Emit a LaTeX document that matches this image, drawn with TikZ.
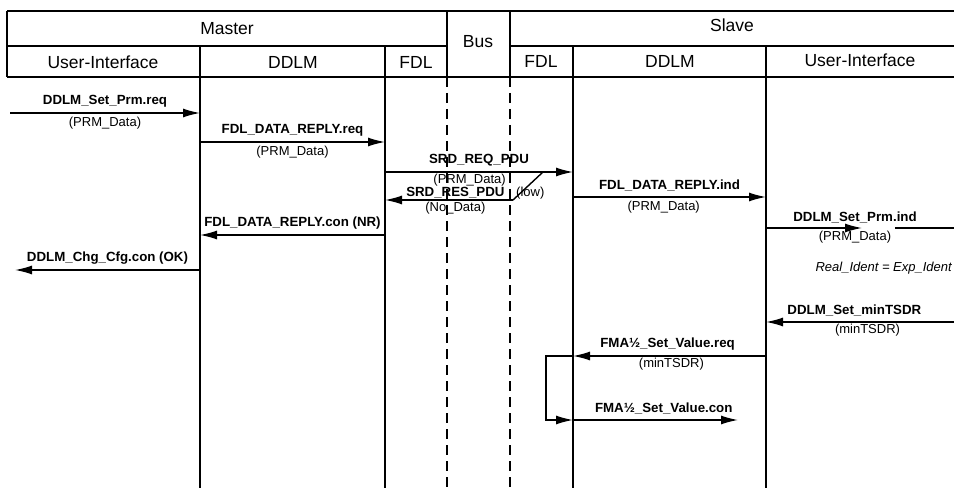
\documentclass[tikz,border=0pt]{standalone}
\usepackage{fontspec}
\setmainfont{Liberation Sans}
\usetikzlibrary{arrows.meta}

\begin{document}
\begin{tikzpicture}[
    x=1pt, y=-1pt,
    frame/.style={line width=1.7pt},
    lifeline/.style={line width=1.7pt},
    busline/.style={line width=1.6pt, dash pattern=on 10pt off 6pt},
    arrow/.style={line width=1.4pt, -{Latex[length=17pt,width=9pt]}},
    plain/.style={line width=1.4pt},
    head/.style={font=\fontsize{17.5}{20}\selectfont},
    msg/.style={font=\fontsize{13.3}{15}\selectfont\bfseries, inner sep=5pt},
    prm/.style={font=\fontsize{13}{15}\selectfont, inner sep=3pt}
]
    \useasboundingbox (0,0) rectangle (954,492);
    \clip (0,0) rectangle (954,492);

    % Columns
    \coordinate (left) at (7,77);
    \coordinate (ddlmM) at (200,77);
    \coordinate (fdlM) at (385,77);
    \coordinate (busM) at (447,77);
    \coordinate (busS) at (510,77);
    \coordinate (fdlS) at (573,77);
    \coordinate (ddlmS) at (766,77);
    \coordinate (right) at (960,77);
    \coordinate (top) at (0,11);
    \coordinate (mid) at (0,46);
    \coordinate (bot) at (0,488);

    % Header
    \draw[frame] (left |- top) -- (right |- top);
    \draw[frame] (left |- mid) -- (busM |- mid);
    \draw[frame] (busS |- mid) -- (right |- mid);
    \draw[frame] (left) -- (right);
    \foreach \c in {left,busM,busS} \draw[frame] (\c |- top) -- (\c);
    \foreach \c in {ddlmM,fdlM,fdlS,ddlmS} \draw[frame] (\c |- mid) -- (\c);

    \node (master) [head] at (227,29) {Master};
    \node (slave) [head] at (732,25) {Slave};
    \node (bus) [head] at (478,42) {Bus};
    \node (uiM) [head] at (103,62) {User-Interface};
    \node (ddlmMh) [head] at (293,62) {DDLM};
    \node (fdlMh) [head] at (416,62) {FDL};
    \node (fdlSh) [head] at (541,61) {FDL};
    \node (ddlmSh) [head] at (670,61) {DDLM};
    \node (uiS) [head] at (860,60) {User-Interface};

    % Lifelines
    \foreach \c in {ddlmM,fdlM,fdlS,ddlmS} \draw[lifeline] (\c) -- (\c |- bot);
    \foreach \c in {busM,busS} \draw[busline] (\c) -- (\c |- bot);

    % Master side requests
    \coordinate (m1) at (10,113);
    \draw[arrow] (m1) -- node[msg,above] (m1t) {DDLM\_Set\_Prm.req}
        node[prm,below] (m1d) {(PRM\_Data)} (m1 -| ddlmM);
    \coordinate (m2) at (0,142);
    \draw[arrow] (m2 -| ddlmM) -- node[msg,above] (m2t) {FDL\_DATA\_REPLY.req}
        node[prm,below] (m2d) {(PRM\_Data)} (m2 -| fdlM);

    % Bus frames
    \coordinate (m3) at (0,172);
    \draw[arrow] (m3 -| fdlM) -- node[msg,above] (m3t) {SRD\_REQ\_PDU}
        node[prm,below,pos=0.45,inner sep=1pt] (m3d) {(PRM\_Data)} (m3 -| fdlS);
    \coordinate (m4) at (513,200);
    \coordinate (turn) at (543,172);
    \draw[plain] (m4) -- (turn);
    \draw[arrow] (m4) -- node[msg,above,pos=0.45,inner sep=1pt] (m4t) {SRD\_RES\_PDU}
        node[prm,below,pos=0.45,inner sep=1pt] (m4d) {(No\_Data)} (m4 -| fdlM);
    \node (low) [prm, anchor=west, yshift=7pt] at (m4) {(low)};

    % Slave indication
    \coordinate (m5) at (0,197);
    \draw[arrow] (m5 -| fdlS) -- node[msg,above] (m5t) {FDL\_DATA\_REPLY.ind}
        node[prm,below,pos=0.47] (m5d) {(PRM\_Data)} (m5 -| ddlmS);
    \coordinate (m7) at (862,228);
    \coordinate (m7r) at (895,228);
    \draw[arrow] (m7 -| ddlmS) -- (m7);
    \draw[plain] (m7r) -- (m7r -| right);
    \node (m7t) [msg, above] at (855,228) {DDLM\_Set\_Prm.ind};
    \node (m7d) [prm, below] at (855,228) {(PRM\_Data)};
    \node (ident) [prm, anchor=east, inner sep=1pt] at (953,268) {\itshape Real\_Ident = Exp\_Ident};

    % Master confirmations
    \coordinate (m6) at (0,235);
    \draw[arrow] (m6 -| fdlM) -- node[msg,above] (m6t) {FDL\_DATA\_REPLY.con (NR)} (m6 -| ddlmM);
    \coordinate (m8) at (15,270);
    \draw[arrow] (m8 -| ddlmM) -- node[msg,above] (m8t) {DDLM\_Chg\_Cfg.con (OK)} (m8);

    % minTSDR
    \coordinate (m9) at (954,322);
    \draw[arrow] (m9) -- node[msg,above,pos=0.53] (m9t) {DDLM\_Set\_minTSDR}
        node[prm,below,pos=0.46,inner sep=1pt] (m9d) {(minTSDR)} (m9 -| ddlmS);
    \coordinate (m10) at (0,356);
    \coordinate (m11) at (738,420);
    \draw[arrow] (m10 -| ddlmS) -- node[msg,above,pos=0.51] (m10t) {FMA½\_Set\_Value.req}
        node[prm,below,pos=0.49,inner sep=1pt] (m10d) {(minTSDR)} (m10 -| fdlS);
    \draw[arrow] (m10 -| fdlS) -- ++(-27,0) |- (m11 -| fdlS);
    \draw[arrow] (m11 -| fdlS) -- node[msg,above,pos=0.55] (m11t) {FMA½\_Set\_Value.con} (m11);
\end{tikzpicture}
\end{document}
